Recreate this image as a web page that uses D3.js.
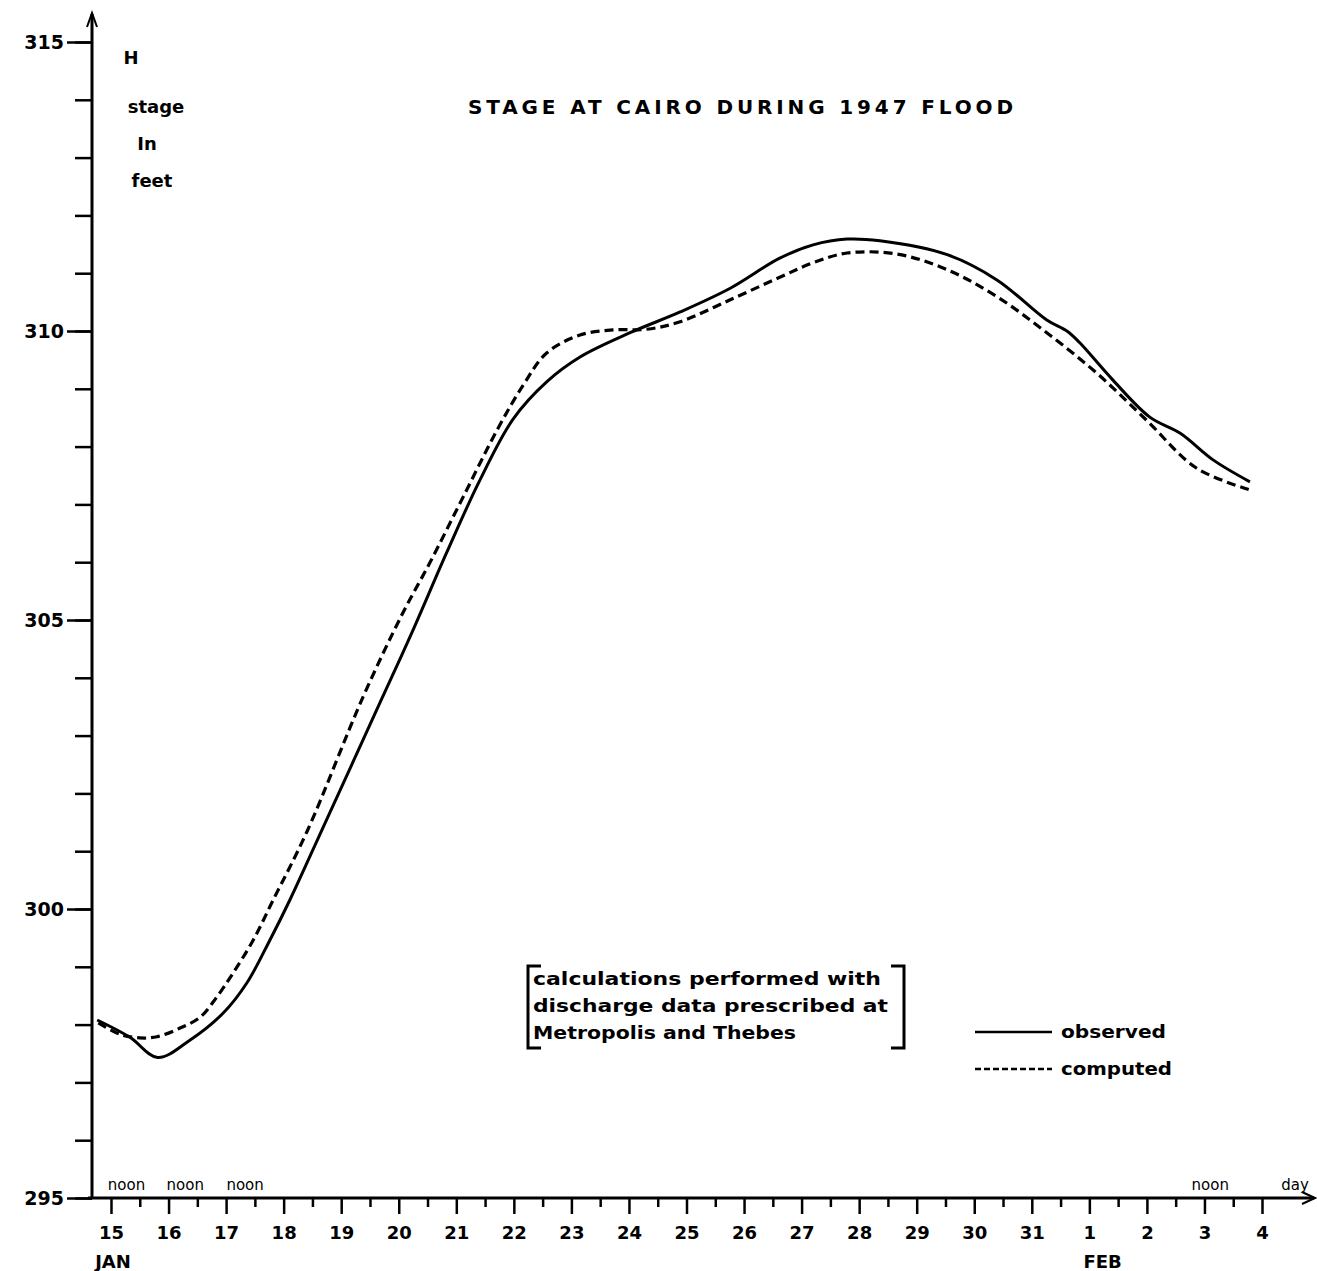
<!DOCTYPE html>
<html><head><meta charset="utf-8">
<script src="https://cdn.jsdelivr.net/npm/d3@7"></script>
<style>
html,body{margin:0;padding:0;background:#fff;}
svg{display:block;}
text{font-family:"DejaVu Sans","Liberation Sans",sans-serif;fill:#000;}
</style></head>
<body>
<svg id="chart" width="1317" height="1271"></svg>
<script>
// ---- data (days counted from Jan 15 = 0) ----
const dayLabels = ["15","16","17","18","19","20","21","22","23","24","25","26","27","28","29","30","31","1","2","3","4"];
const stageTicks = [295,300,305,310,315];
const observedDays  = [-0.24,0.33,0.81,1.37,1.95,2.36,2.76,3.11,3.68,4.67,5.25,5.83,6.41,6.99,7.57,8.15,9.02,9.89,10.76,11.62,12.2,12.79,13.36,14.53,15.4,16.26,16.61,16.83,17.41,18.05,18.58,19.15,19.79];
const observedStage = [298.08,297.78,297.43,297.73,298.2,298.72,299.46,300.16,301.4,303.56,304.83,306.16,307.42,308.48,309.12,309.55,309.97,310.33,310.74,311.26,311.49,311.59,311.56,311.32,310.88,310.19,310.0,309.8,309.15,308.51,308.23,307.77,307.39];
const computedDays  = [-0.22,0.16,0.5,0.8,1.2,1.55,1.84,2.12,2.47,2.82,3.41,4.38,5.07,5.54,6.12,6.71,7.16,7.57,8.15,8.72,9.31,9.89,10.76,11.62,12.2,12.79,13.66,14.53,15.4,16.26,17.13,17.99,18.86,19.79];
const computedStage = [298.03,297.83,297.77,297.79,297.94,298.13,298.48,298.89,299.46,300.16,301.35,303.67,305.12,305.99,307.13,308.29,309.06,309.62,309.93,310.02,310.03,310.16,310.54,310.93,311.18,311.35,311.33,311.06,310.59,309.97,309.27,308.46,307.63,307.25];
const noonLabelDays = [0.27,1.29,2.33,19.1];
const titleText = "STAGE AT CAIRO DURING 1947 FLOOD";
const yLabelLines = ["H","stage","In","feet"];
const noteLines = ["calculations performed with","discharge data prescribed at","Metropolis and Thebes"];
const legendItems = [{name:"observed",dash:null},{name:"computed",dash:"6,3"}];

// ---- layout ----
const svg = d3.select("#chart");
const x = d3.scaleLinear().domain([0,20]).range([111,1262]);
const y = d3.scaleLinear().domain([295,315]).range([1198,42]);
const axisX0 = 92, axisY0 = 1198;

// Y axis minor ticks
svg.append("g").attr("transform",`translate(${axisX0},0)`)
  .call(d3.axisLeft(y).tickValues(d3.range(295,316,1)).tickSize(17).tickFormat(""))
  .call(g=>g.select(".domain").remove())
  .call(g=>g.selectAll("line").attr("stroke","#000").attr("stroke-width",2.5));
// Y axis major ticks with labels
svg.append("g").attr("transform",`translate(${axisX0},0)`)
  .call(d3.axisLeft(y).tickValues(stageTicks).tickSize(25).tickPadding(3).tickFormat(d3.format("d")))
  .call(g=>g.select(".domain").remove())
  .call(g=>g.selectAll("line").attr("stroke","#000").attr("stroke-width",2.5))
  .call(g=>g.selectAll("text").attr("font-size",19).attr("font-family","DejaVu Sans").style("font-weight","bold").attr("fill","#000"));
// Y axis line + arrow
svg.append("line").attr("x1",axisX0).attr("x2",axisX0).attr("y1",axisY0).attr("y2",14)
  .attr("stroke","#000").attr("stroke-width",3);
svg.append("path").attr("d",`M${axisX0-5},27 L${axisX0},13 L${axisX0+5},27`).attr("fill","none").attr("stroke","#000").attr("stroke-width",2);

// X axis minor (noon) ticks
svg.append("g").attr("transform",`translate(0,${axisY0})`)
  .call(d3.axisBottom(x).tickValues(d3.range(0.5,20,1)).tickSize(9).tickFormat(""))
  .call(g=>g.select(".domain").remove())
  .call(g=>g.selectAll("line").attr("stroke","#000").attr("stroke-width",2.5));
// X axis day ticks with labels
svg.append("g").attr("transform",`translate(0,${axisY0})`)
  .call(d3.axisBottom(x).tickValues(d3.range(0,21,1)).tickSize(16).tickPadding(12).tickFormat(d=>dayLabels[d]))
  .call(g=>g.select(".domain").remove())
  .call(g=>g.selectAll("line").attr("stroke","#000").attr("stroke-width",2.5))
  .call(g=>g.selectAll("text").attr("font-size",18).attr("font-family","DejaVu Sans").style("font-weight","bold").attr("fill","#000"));
// X axis line + arrow
svg.append("line").attr("x1",axisX0-4).attr("x2",1314).attr("y1",axisY0).attr("y2",axisY0)
  .attr("stroke","#000").attr("stroke-width",3);
svg.append("path").attr("d",`M1302,${axisY0-6} L1315,${axisY0} L1302,${axisY0+6}`).attr("fill","none").attr("stroke","#000").attr("stroke-width",2);

// month labels
svg.append("text").attr("x",x(0)+2).attr("y",1268).attr("text-anchor","middle").attr("font-size",18).style("font-weight","bold").text("JAN");
svg.append("text").attr("x",x(17.23)).attr("y",1268).attr("text-anchor","middle").attr("font-size",18).style("font-weight","bold").text("FEB");
// noon labels
svg.selectAll("text.noon").data(noonLabelDays).join("text").attr("class","noon")
  .attr("x",d=>x(d)).attr("y",1190).attr("text-anchor","middle").attr("font-size",15).style("font-weight","normal").text("noon");
svg.append("text").attr("x",1295).attr("y",1190).attr("text-anchor","middle").attr("font-size",15).style("font-weight","normal").text("day");

// Y label
const ylab = [{t:yLabelLines[0],x:131,y:64},{t:yLabelLines[1],x:156,y:113},{t:yLabelLines[2],x:147,y:150},{t:yLabelLines[3],x:152,y:187}];
svg.selectAll("text.ylab").data(ylab).join("text").attr("class","ylab")
  .attr("x",d=>d.x).attr("y",d=>d.y).attr("text-anchor","middle").attr("font-size",18).style("font-weight","bold").text(d=>d.t);

// Title
svg.append("text").attr("x",468).attr("y",114).attr("font-size",20).style("font-weight","bold")
  .attr("textLength",545).attr("lengthAdjust","spacing").text(titleText);

// Curves
const line = d3.line().x(d=>x(d[0])).y(d=>y(d[1])).curve(d3.curveCatmullRom.alpha(0.5));
const obs = observedDays.map((d,i)=>[d,observedStage[i]]);
const comp = computedDays.map((d,i)=>[d,computedStage[i]]);
svg.append("path").datum(comp).attr("d",line).attr("fill","none").attr("stroke","#000").attr("stroke-width",3.2).attr("stroke-dasharray","9,5");
svg.append("path").datum(obs).attr("d",line).attr("fill","none").attr("stroke","#000").attr("stroke-width",3);

// Note with brackets
const noteG = svg.append("g");
noteG.append("path").attr("d","M541,966 L528,966 L528,1048 L541,1048").attr("fill","none").attr("stroke","#000").attr("stroke-width",3);
noteG.append("path").attr("d","M891,966 L904,966 L904,1048 L891,1048").attr("fill","none").attr("stroke","#000").attr("stroke-width",3);
const noteW = [348,355,263];
noteLines.forEach((t,i)=>{
  noteG.append("text").attr("x",533).attr("y",985+i*27).attr("font-size",17).style("font-weight","600")
    .attr("textLength",noteW[i]).attr("lengthAdjust","spacingAndGlyphs").text(t);
});

// Legend
const legendW = [105,111];
legendItems.forEach((it,i)=>{
  const ly = 1032 + i*37;
  svg.append("line").attr("x1",975).attr("x2",1052).attr("y1",ly).attr("y2",ly)
    .attr("stroke","#000").attr("stroke-width",2.5).attr("stroke-dasharray",it.dash);
  svg.append("text").attr("x",1061).attr("y",ly+6).attr("font-size",18).style("font-weight","bold")
    .attr("textLength",legendW[i]).attr("lengthAdjust","spacingAndGlyphs").text(it.name);
});
</script>
</body></html>
